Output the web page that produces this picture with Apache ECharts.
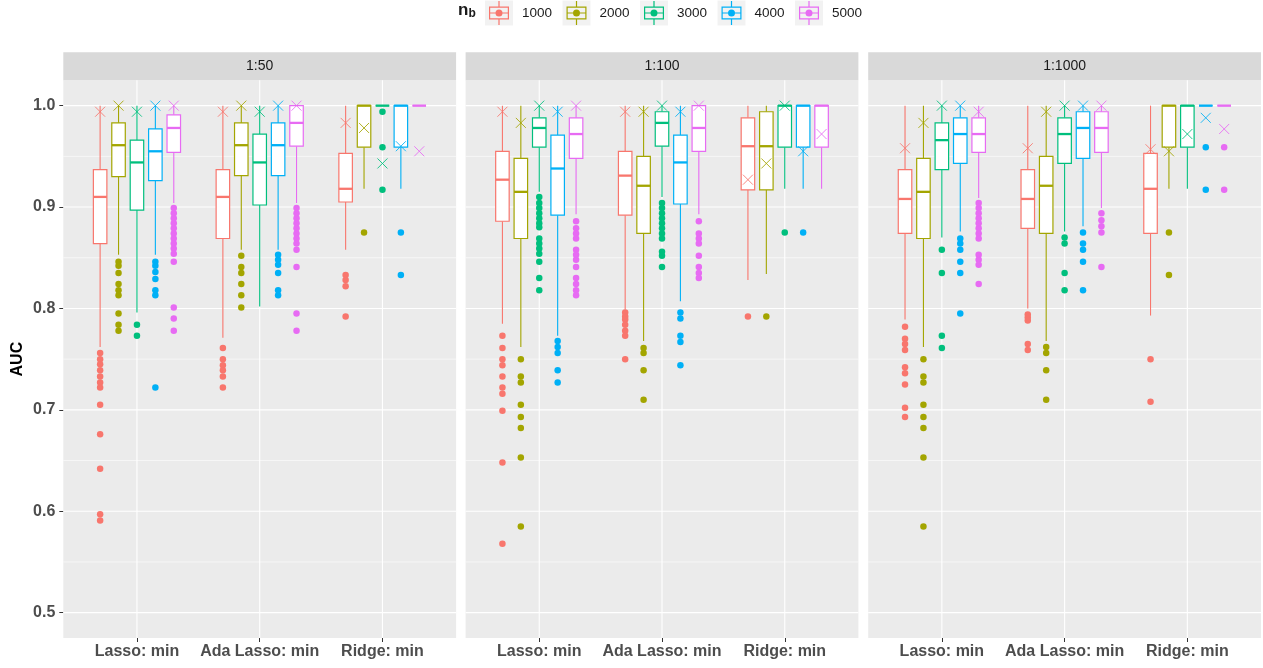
<!DOCTYPE html>
<html>
<head>
<meta charset="utf-8">
<script src="https://cdn.jsdelivr.net/npm/echarts@6/dist/echarts.min.js"></script>
<style>
html,body{margin:0;padding:0;background:#fff;}
#chart{width:1263px;height:668px;}
</style>
</head>
<body>
<div id="chart"></div>
<script>
// ---------------- DATA ----------------
const categories = ['Lasso: min', 'Ada Lasso: min', 'Ridge: min'];
const groups = ['1000', '2000', '3000', '4000', '5000'];
const panels = ['1:50', '1:100', '1:1000'];
const yTicks = [0.5, 0.6, 0.7, 0.8, 0.9, 1.0];
const yMinor = [0.55, 0.65, 0.75, 0.85, 0.95];

// box stats per category, per n_b: [lower whisker, Q1, median, Q3, upper whisker]
const box_50 = [
  [[0.762,0.864,0.910,0.937,1.0],[0.853,0.930,0.961,0.983,1.0],[0.796,0.897,0.944,0.966,1.0],[0.853,0.926,0.955,0.977,1.0],[0.904,0.954,0.978,0.991,1.0]],
  [[0.771,0.869,0.910,0.937,1.0],[0.858,0.931,0.961,0.983,1.0],[0.802,0.902,0.944,0.972,1.0],[0.858,0.931,0.961,0.983,1.0],[0.904,0.960,0.983,1.0,1.0]],
  [[0.858,0.905,0.918,0.953,1.0],[0.918,0.959,1.0,1.0,1.0],[1.0,1.0,1.0,1.0,1.0],[0.918,0.959,1.0,1.0,1.0],[1.0,1.0,1.0,1.0,1.0]]
];
const box_100 = [
  [[0.785,0.886,0.927,0.955,1.0],[0.762,0.869,0.915,0.948,1.0],[0.915,0.959,0.978,0.988,1.0],[0.773,0.892,0.938,0.971,1.0],[0.893,0.948,0.972,0.988,1.0]],
  [[0.799,0.892,0.931,0.955,1.0],[0.768,0.874,0.921,0.950,1.0],[0.910,0.960,0.983,0.994,1.0],[0.807,0.903,0.944,0.971,1.0],[0.893,0.955,0.978,1.0,1.0]],
  [[0.828,0.917,0.960,0.988,1.0],[0.834,0.917,0.960,0.994,1.0],[0.918,0.959,1.0,1.0,1.0],[0.918,0.959,1.0,1.0,1.0],[0.918,0.959,1.0,1.0,1.0]]
];
const box_1000 = [
  [[0.789,0.874,0.908,0.937,1.0],[0.762,0.869,0.915,0.948,1.0],[0.870,0.937,0.966,0.983,1.0],[0.876,0.943,0.972,0.988,1.0],[0.909,0.954,0.972,0.988,1.0]],
  [[0.800,0.879,0.908,0.937,1.0],[0.768,0.874,0.921,0.950,1.0],[0.876,0.943,0.972,0.988,1.0],[0.881,0.948,0.978,0.994,1.0],[0.899,0.954,0.978,0.994,1.0]],
  [[0.793,0.874,0.918,0.953,1.0],[0.918,0.959,1.0,1.0,1.0],[0.918,0.959,1.0,1.0,1.0],[1.0,1.0,1.0,1.0,1.0],[1.0,1.0,1.0,1.0,1.0]]
];

// outliers per category, per n_b
const out_50 = [
  [[0.756,0.750,0.745,0.739,0.733,0.727,0.722,0.705,0.676,0.642,0.597,0.591],
   [0.846,0.842,0.835,0.824,0.818,0.813,0.795,0.784,0.778],
   [0.784,0.773],
   [0.846,0.842,0.836,0.829,0.818,0.813,0.722],
   [0.899,0.894,0.889,0.884,0.879,0.874,0.869,0.864,0.859,0.854,0.846,0.801,0.790,0.778]],
  [[0.761,0.750,0.744,0.739,0.733,0.722],
   [0.852,0.841,0.835,0.824,0.813,0.801],
   [],
   [0.853,0.848,0.843,0.835,0.818,0.813],
   [0.899,0.894,0.889,0.884,0.879,0.874,0.869,0.864,0.858,0.841,0.795,0.778]],
  [[0.833,0.828,0.822,0.792],
   [0.875],
   [0.994,0.959,0.917],
   [0.875,0.833],
   []]
];
const out_100 = [
  [[0.773,0.761,0.750,0.744,0.733,0.722,0.716,0.699,0.648,0.568],
   [0.750,0.733,0.727,0.705,0.693,0.682,0.653,0.585],
   [0.910,0.904,0.899,0.894,0.889,0.884,0.880,0.869,0.864,0.859,0.854,0.846,0.830,0.818],
   [0.768,0.762,0.756,0.739,0.727],
   [0.886,0.879,0.874,0.869,0.858,0.853,0.848,0.841,0.830,0.824,0.818,0.813]],
  [[0.796,0.792,0.789,0.784,0.778,0.773,0.750],
   [0.761,0.756,0.739,0.710],
   [0.904,0.899,0.894,0.889,0.884,0.879,0.874,0.869,0.856,0.852,0.841],
   [0.796,0.790,0.773,0.767,0.744],
   [0.886,0.874,0.869,0.864,0.852,0.841,0.835,0.830]],
  [[0.792],
   [0.792],
   [0.875],
   [0.875],
   []]
];
const out_1000 = [
  [[0.782,0.770,0.765,0.759,0.742,0.736,0.725,0.702,0.693],
   [0.750,0.733,0.727,0.705,0.693,0.682,0.653,0.585],
   [0.858,0.835,0.773,0.761],
   [0.869,0.864,0.858,0.846,0.835,0.795],
   [0.904,0.899,0.894,0.889,0.884,0.879,0.874,0.869,0.853,0.848,0.843,0.824]],
  [[0.794,0.791,0.788,0.765,0.759],
   [0.762,0.756,0.739,0.710],
   [0.870,0.864,0.835,0.818],
   [0.875,0.864,0.858,0.846,0.818],
   [0.894,0.887,0.881,0.875,0.841]],
  [[0.750,0.708],
   [0.875,0.833],
   [],
   [0.959,0.917],
   [0.959,0.917]]
];

// "X" markers per category, per n_b
const mark_50 = [
  [0.994,1.0,0.994,1.0,1.0],
  [0.994,1.0,0.994,1.0,1.0],
  [0.983,0.978,0.943,0.960,0.955]
];
const mark_100 = [
  [0.994,0.983,1.0,0.994,1.0],
  [0.994,0.994,1.0,0.994,1.0],
  [0.927,0.943,1.0,0.955,0.972]
];
const mark_1000 = [
  [0.958,0.983,1.0,1.0,0.994],
  [0.958,0.994,1.0,1.0,1.0],
  [0.957,0.955,0.972,0.988,0.977]
];

// ---------------- STYLE / LAYOUT ----------------
const boxData = [box_50, box_100, box_1000];
const outData = [out_50, out_100, out_1000];
const markData = [mark_50, mark_100, mark_1000];
const COLORS = ['#F8766D', '#A3A500', '#00BF7D', '#00B0F6', '#E76BF3'];
const FONT = 'Liberation Sans, Arial, Helvetica, sans-serif';
const DODGE = 0.15;      // dodge step (units of category)
const BOX_W = 0.11;      // box width (units of category)
const X_MIN = 0.4, X_MAX = 3.6;
const Y_MIN = 0.475, Y_MAX = 1.025;
const PANEL_LEFT = [63.3, 465.6, 868.2];
const PANEL_W = 392.8;
const PANEL_TOP = 80.3;
const PANEL_H = 557.7;
const catPos = categories.map((c, i) => i + 1);

function renderBox(params, api) {
  const x = api.value(0);
  const lo = api.value(1), q1 = api.value(2), md = api.value(3), q3 = api.value(4), hi = api.value(5);
  const c = api.visual('color');
  const half = api.size([BOX_W, 0])[0] / 2;
  const pLo = api.coord([x, lo]), pQ1 = api.coord([x, q1]), pMd = api.coord([x, md]),
        pQ3 = api.coord([x, q3]), pHi = api.coord([x, hi]);
  const cx = pMd[0];
  return {
    type: 'group',
    children: [
      {type: 'line', shape: {x1: cx, y1: pHi[1], x2: cx, y2: pQ3[1]}, style: {stroke: c, lineWidth: 1.1}},
      {type: 'line', shape: {x1: cx, y1: pQ1[1], x2: cx, y2: pLo[1]}, style: {stroke: c, lineWidth: 1.1}},
      {type: 'rect', shape: {x: cx - half, y: pQ3[1], width: 2 * half, height: pQ1[1] - pQ3[1]},
       style: {fill: '#FFFFFF', stroke: c, lineWidth: 1.2}},
      {type: 'line', shape: {x1: cx - half, y1: pMd[1], x2: cx + half, y2: pMd[1]}, style: {stroke: c, lineWidth: 2.3}}
    ]
  };
}

function renderGridLine(params, api) {
  const cs = params.coordSys;
  const orient = api.value(0), v = api.value(1), major = api.value(2);
  const w = major ? 1.1 : 0.6;
  if (orient === 0) {
    const y = api.coord([1, v])[1];
    return {type: 'line', shape: {x1: cs.x, y1: y, x2: cs.x + cs.width, y2: y}, style: {stroke: '#FFFFFF', lineWidth: w}};
  }
  const x = api.coord([v, 0.75])[0];
  return {type: 'line', shape: {x1: x, y1: cs.y, x2: x, y2: cs.y + cs.height}, style: {stroke: '#FFFFFF', lineWidth: w}};
}

const grids = [], xAxes = [], yAxes = [], series = [], graphics = [];

panels.forEach((pName, p) => {
  grids.push({left: PANEL_LEFT[p], top: PANEL_TOP, width: PANEL_W, height: PANEL_H,
              show: true, backgroundColor: '#EBEBEB', borderWidth: 0});
  xAxes.push({
    gridIndex: p, type: 'value', min: X_MIN, max: X_MAX,
    axisLine: {show: false}, splitLine: {show: false},
    axisTick: {show: true, customValues: catPos, length: 4, lineStyle: {color: '#333333', width: 1}},
    axisLabel: {customValues: catPos, formatter: v => categories[Math.round(v) - 1],
                fontSize: 16, fontWeight: 'bold', color: '#4D4D4D', fontFamily: FONT, margin: 6}
  });
  yAxes.push({
    gridIndex: p, type: 'value', min: Y_MIN, max: Y_MAX,
    axisLine: {show: false}, splitLine: {show: false},
    axisTick: {show: p === 0, customValues: yTicks, length: 4, lineStyle: {color: '#333333', width: 1}},
    axisLabel: {show: p === 0, customValues: yTicks, formatter: v => v.toFixed(1),
                fontSize: 16, fontWeight: 'bold', color: '#4D4D4D', fontFamily: FONT, margin: 8},
    name: p === 0 ? 'AUC' : '', nameLocation: 'middle', nameRotate: 90, nameGap: 38,
    nameTextStyle: {fontSize: 16, fontWeight: 'bold', color: '#000000', fontFamily: FONT}
  });
  // panel grid lines
  const gl = yTicks.map(v => [0, v, 1]).concat(yMinor.map(v => [0, v, 0])).concat(catPos.map(v => [1, v, 1]));
  series.push({type: 'custom', name: 'grid' + p, xAxisIndex: p, yAxisIndex: p, z: 1, silent: true,
               renderItem: renderGridLine, data: gl, clip: false, animation: false});
  // strip
  graphics.push({type: 'rect', left: PANEL_LEFT[p], top: 52.3, silent: true,
                 shape: {width: PANEL_W, height: PANEL_TOP - 52.3}, style: {fill: '#D9D9D9'}});
  graphics.push({type: 'text', x: PANEL_LEFT[p] + PANEL_W / 2, y: 66.3, silent: true,
                 style: {text: pName, align: 'center', verticalAlign: 'middle', fill: '#1A1A1A',
                         font: '14px ' + FONT}});
});

// boxes, outliers, markers
panels.forEach((pName, p) => {
  groups.forEach((g, gi) => {
    const color = COLORS[gi];
    const xOf = ci => catPos[ci] + (gi - 2) * DODGE;
    series.push({
      type: 'custom', name: g, xAxisIndex: p, yAxisIndex: p, z: 2,
      itemStyle: {color: color},
      renderItem: renderBox,
      encode: {x: 0, y: [1, 2, 3, 4, 5]},
      data: categories.map((c, ci) => [xOf(ci)].concat(boxData[p][ci][gi]))
    });
  });
  groups.forEach((g, gi) => {
    const color = COLORS[gi];
    const xOf = ci => catPos[ci] + (gi - 2) * DODGE;
    const pts = [];
    categories.forEach((c, ci) => outData[p][ci][gi].forEach(v => pts.push([xOf(ci), v])));
    series.push({
      type: 'scatter', name: g, xAxisIndex: p, yAxisIndex: p, z: 3,
      symbol: 'circle', symbolSize: 6.5,
      itemStyle: {color: color, opacity: 1},
      data: pts
    });
  });
  groups.forEach((g, gi) => {
    const color = COLORS[gi];
    const xOf = ci => catPos[ci] + (gi - 2) * DODGE;
    series.push({
      type: 'scatter', name: g, xAxisIndex: p, yAxisIndex: p, z: 4,
      symbol: 'path://M0,0L10,10M10,0L0,10', symbolSize: 10,
      itemStyle: {color: 'none', borderColor: color, borderWidth: 1, opacity: 0.85},
      data: categories.map((c, ci) => [xOf(ci), markData[p][ci][gi]])
    });
  });
});

// legend: one component per key so keys line up exactly with their grey backgrounds
const LEG_ICON = 'path://M0 0M28 25' +
  'M4 6h20v1.2h-20z' + 'M4 17.8h20v1.2h-20z' + 'M4 6h1.2v13h-1.2z' + 'M22.8 6h1.2v13h-1.2z' +
  'M4 11.9h20v1.2h-20z' + 'M13.4 0.5h1.2v5.5h-1.2z' + 'M13.4 19h1.2v5.5h-1.2z' +
  'M10.5 12.5a3.5 3.5 0 1 1 7 0a3.5 3.5 0 1 1 -7 0z';
const LEG_LEFT = 485, LEG_STEP = 77.5;
const legends = groups.map((g, gi) => ({
  left: LEG_LEFT + gi * LEG_STEP, top: 0.5, padding: 0, itemWidth: 28, itemHeight: 25,
  itemStyle: {borderWidth: 0},
  data: [{name: g, icon: LEG_ICON}],
  textStyle: {fontSize: 13.5, color: '#1A1A1A', fontFamily: FONT, padding: [0, 0, 0, 4]}
}));
groups.forEach((g, gi) => {
  graphics.push({type: 'rect', left: LEG_LEFT + gi * LEG_STEP, top: 0.5, z: -10, silent: true,
                 shape: {width: 28, height: 25}, style: {fill: '#F2F2F2'}});
});

const chart = echarts.init(document.getElementById('chart'), null, {renderer: 'canvas'});
chart.setOption({
  backgroundColor: '#FFFFFF',
  animation: false,
  title: {
    text: '{n|n}{b|b}', left: 458, top: 0, padding: 0,
    textStyle: {rich: {
      n: {fontSize: 17, lineHeight: 20, color: '#1A1A1A', fontFamily: FONT, verticalAlign: 'middle'},
      b: {fontSize: 12, lineHeight: 12, color: '#1A1A1A', fontFamily: FONT, verticalAlign: 'bottom'}
    }}
  },
  legend: legends,
  grid: grids,
  xAxis: xAxes,
  yAxis: yAxes,
  graphic: graphics,
  series: series
});
</script>
</body>
</html>
